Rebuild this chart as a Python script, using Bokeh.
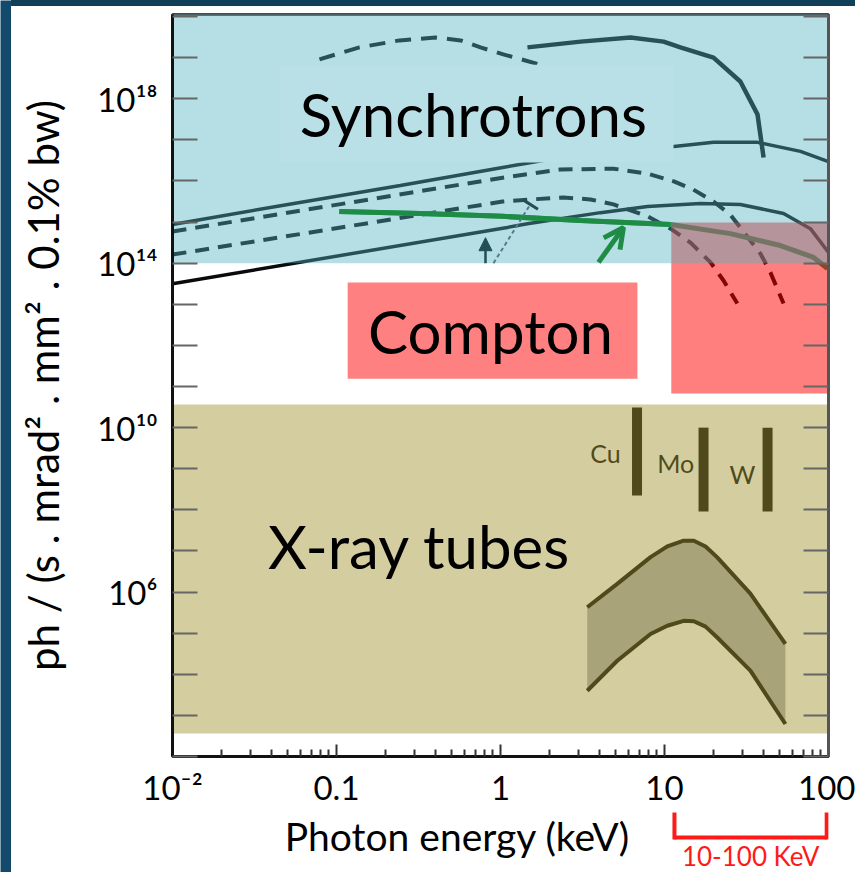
import math
import numpy as np
from bokeh.plotting import figure
from bokeh.layouts import column, row
from bokeh.models import (Range1d, LogAxis, FixedTicker, Arrow, OpenHead, NormalHead, TeeHead, Div)
from bokeh.core.properties import value
from bokeh.embed import file_html
from bokeh.resources import INLINE

FONT = "Lato"

# ------------------------------------------------------------------ data
# axis ticks
x_tick_values = [0.01, 0.1, 1.0, 10.0, 100.0]
x_tick_labels = ["10\u207b\u00b2", "0.1", "1", "10", "100"]
y_tick_decades = list(range(2, 21))
y_label_exponents = [6, 10, 14, 18]
y_label_texts = ["10\u2076", "10\u00b9\u2070", "10\u00b9\u2074", "10\u00b9\u2078"]

# source regions: energy range (keV) and log10 brightness range
synchrotron_E = [0.01, 100.0]
synchrotron_logB = [14.0, 21.0]
compton_E = [11.0, 100.0]
compton_logB = [10.83, 14.99]
tube_E = [0.01, 100.0]
tube_logB = [2.56, 10.56]

# label boxes (energy keV, log10 brightness)
synch_box_E = [0.045, 11.35]
synch_box_logB = [16.45, 18.83]
compton_box_E = [0.117, 6.84]
compton_box_logB = [11.19, 13.53]

region_labels = ["Synchrotrons", "Compton", "X-ray tubes"]
region_label_E = [0.684, 0.87, 0.32]
region_label_logB = [17.62, 12.36, 7.13]

# synchrotron brightness curves (keV, log10 brightness)
s1_E = [0.01, 0.0456, 0.245, 1.03, 2.32, 5.4, 11.4, 19.9, 36.9, 67.5, 100]
s1_logB = [14.94, 15.40, 15.89, 16.33, 16.57, 16.74, 16.84, 16.94, 16.94, 16.72, 16.47]

dA_E = [0.01, 1.03, 2.32, 4.89, 7.87, 11.4, 15.0, 19.9, 25.2, 30.3, 38.5, 44.3, 53.2]
dA_logB = [14.77, 16.08, 16.28, 16.30, 16.18, 15.99, 15.79, 15.50, 15.18, 14.77, 14.23, 13.77, 13.02]

dB_E = [0.01, 1.03, 1.52, 2.42, 3.54, 4.89, 6.47, 7.87, 10.9, 14.4, 19.1, 22.9, 27.8]
dB_logB = [14.21, 15.50, 15.55, 15.60, 15.55, 15.43, 15.26, 15.14, 14.84, 14.50, 14.02, 13.58, 13.02]

s2_E = [0.01, 1.10, 1.46, 4.07, 7.87, 16.6, 29.0, 53.2, 77.6, 100]
s2_logB = [13.50, 14.87, 14.96, 15.23, 15.38, 15.45, 15.43, 15.21, 14.84, 14.26]

dC_E = [0.0787, 0.138, 0.242, 0.402, 0.571, 0.755, 1.04, 1.75]
dC_logB = [18.96, 19.25, 19.42, 19.49, 19.42, 19.25, 19.08, 18.83]

s3_E = [1.46, 3.08, 6.21, 9.87, 12.5, 19.9, 29.0, 36.9, 40.2]
s3_logB = [19.25, 19.39, 19.49, 19.39, 19.25, 19.00, 18.42, 17.62, 16.57]

# inverse Compton source curve
green_E = [0.104, 0.325, 1.03, 3.08, 10.9, 25.2, 50.9, 81.1, 98.6]
green_logB = [15.26, 15.21, 15.14, 15.04, 14.94, 14.72, 14.43, 14.14, 13.87]

# arrows (start E, start logB, end E, end logB)
green_arrow = [3.96, 14.02, 5.62, 14.87]
up_arrow = [0.81, 14.0, 0.81, 14.62]
tee_arrow = [0.906, 14.0, 1.52, 15.43]

# X-ray tube spectrum band
band_E = [3.38, 5.15, 8.22, 10.4, 13.1, 15.1, 17.8, 20.9, 33.4, 54.6]
band_top_logB = [5.63, 6.20, 6.85, 7.11, 7.25, 7.25, 7.11, 6.85, 5.96, 4.74]
band_bot_logB = [3.60, 4.33, 4.98, 5.18, 5.30, 5.29, 5.16, 4.90, 4.09, 2.79]

# anode lines
anodes = ["Cu", "Mo", "W"]
anode_E = [6.8, 17.3, 42.5]
anode_top_logB = [10.49, 10.0, 10.0]
anode_bot_logB = [8.35, 7.96, 7.96]
anode_label_E = [4.37, 11.7, 29.9]
anode_label_logB = [9.39, 9.13, 8.88]

# 10-100 keV bracket under the axis
range_label = "10-100 KeV"
bracket_E = [11.5, 97.5]
x_title = "Photon energy (keV)"
y_title = "ph / (s . mrad\u00b2 . mm\u00b2 . 0.1% bw)"

# ------------------------------------------------------------------ layout
PAGE_W, PAGE_H = 855, 872
STRIP_L, STRIP_T = 11, 6
FL, FR, FT, FB = 172, 828, 14, 756          # frame edges on the page
MAIN_BOTTOM = 812                           # page y where the main figure ends
X_LO, X_HI = -2.0, 2.0
Y_LO, Y_HI = 2.0, 20.05
PPX = (FR - FL) / (X_HI - X_LO)

FIG_W = PAGE_W - STRIP_L


def xd(px):
    return 10 ** (X_LO + (px - FL) / PPX)


def B(arr):
    return list(np.power(10.0, np.array(arr, dtype=float)))


LINE = "#0a0a0a"
GREEN = "#1f8c45"
TEAL = "#244e56"

p = figure(width=FIG_W, height=MAIN_BOTTOM - STRIP_T, x_axis_type="log", y_axis_type="log",
           x_range=Range1d(10 ** X_LO, 10 ** X_HI), y_range=Range1d(10 ** Y_LO, 10 ** Y_HI),
           output_backend="svg", toolbar_location=None, title=None,
           min_border_left=FL - STRIP_L, min_border_right=PAGE_W - FR,
           min_border_top=FT - STRIP_T, min_border_bottom=MAIN_BOTTOM - FB)
p.background_fill_color = "white"
p.border_fill_color = "white"
p.grid.visible = False
p.outline_line_color = "#4a4a4a"
p.outline_line_width = 3

# bottom axis
p.xaxis.ticker = FixedTicker(ticks=x_tick_values,
                             minor_ticks=[m * 10.0 ** k for k in range(-2, 2) for m in range(2, 10)])
p.xaxis.major_label_overrides = dict(zip(x_tick_values, x_tick_labels))
p.xaxis.major_label_text_font = FONT
p.xaxis.major_label_text_font_size = "33px"
p.xaxis.major_label_text_color = "black"
p.xaxis.major_label_standoff = 10
p.xaxis.major_tick_in = 12
p.xaxis.major_tick_out = 0
p.xaxis.minor_tick_in = 7
p.xaxis.minor_tick_out = 0
p.xaxis.axis_line_color = "#111111"
p.xaxis.axis_line_width = 3
p.xaxis.major_tick_line_color = "#333333"
p.xaxis.minor_tick_line_color = "#333333"
p.xaxis.major_tick_line_width = 2
p.xaxis.minor_tick_line_width = 2

# left axis
y_ticks = [10.0 ** k for k in y_tick_decades]
y_over = {t: "" for t in y_ticks}
for e, t in zip(y_label_exponents, y_label_texts):
    y_over[10.0 ** e] = t
p.yaxis.ticker = FixedTicker(ticks=y_ticks, minor_ticks=[])
p.yaxis.major_label_overrides = y_over
p.yaxis.major_label_text_font = FONT
p.yaxis.major_label_text_font_size = "33px"
p.yaxis.major_label_text_color = "black"
p.yaxis.major_label_standoff = 15
p.yaxis.major_tick_in = 25
p.yaxis.major_tick_out = 0
p.yaxis.axis_line_color = "#111111"
p.yaxis.axis_line_width = 3
p.yaxis.major_tick_line_color = "#666666"
p.yaxis.major_tick_line_width = 2
p.yaxis.axis_label = y_title
p.yaxis.axis_label_text_font = FONT
p.yaxis.axis_label_text_font_size = "42px"
p.yaxis.axis_label_text_font_style = "normal"
p.yaxis.axis_label_text_color = "black"
p.yaxis.axis_label_standoff = 26

right = LogAxis(ticker=FixedTicker(ticks=y_ticks, minor_ticks=[]),
                major_label_overrides={t: "" for t in y_ticks},
                major_tick_in=25, major_tick_out=0, major_label_standoff=0,
                axis_line_color="#555555", axis_line_width=3,
                major_tick_line_color="#666666", major_tick_line_width=2)
p.add_layout(right, "right")

# ---- original (black) figure content, later tinted by overlays
p.varea(x=band_E, y1=B(band_bot_logB), y2=B(band_top_logB), fill_color="#b2b1b6")
p.line(band_E, B(band_top_logB), line_color=LINE, line_width=4)
p.line(band_E, B(band_bot_logB), line_color=LINE, line_width=4)
p.segment(x0=anode_E, y0=B(anode_bot_logB), x1=anode_E, y1=B(anode_top_logB),
          line_color=LINE, line_width=10)
p.text(x=anode_label_E, y=B(anode_label_logB), text=anodes, text_align="center",
       text_baseline="middle", text_font=value(FONT), text_font_size="25px", text_color=LINE)

p.line(s1_E, B(s1_logB), line_color=LINE, line_width=3.5)
p.line(s2_E, B(s2_logB), line_color=LINE, line_width=3.5)
p.line(s3_E, B(s3_logB), line_color=LINE, line_width=4.5)
p.line(dA_E, B(dA_logB), line_color=LINE, line_width=4, line_dash="14 9")
p.line(dB_E, B(dB_logB), line_color=LINE, line_width=4, line_dash="14 9")
p.line(dC_E, B(dC_logB), line_color=LINE, line_width=4, line_dash="16 10")
p.line(green_E, B(green_logB), line_color=GREEN, line_width=5)

# ---- source-region overlays
p.quad(left=[compton_E[0]], right=[compton_E[1]], bottom=B([compton_logB[0]]),
       top=B([compton_logB[1]]), fill_color="#ff0000", fill_alpha=0.5, line_color=None)
p.quad(left=[synchrotron_E[0]], right=[synchrotron_E[1]], bottom=B([synchrotron_logB[0]]),
       top=B([synchrotron_logB[1]]), fill_color="#51b4c2", fill_alpha=0.425, line_color=None)
p.quad(left=[tube_E[0]], right=[tube_E[1]], bottom=B([tube_logB[0]]),
       top=B([tube_logB[1]]), fill_color="#a09332", fill_alpha=0.463, line_color=None)

# label boxes
p.quad(left=[synch_box_E[0]], right=[synch_box_E[1]], bottom=B([synch_box_logB[0]]),
       top=B([synch_box_logB[1]]), fill_color="#b8e0e6", line_color=None)
p.quad(left=[compton_box_E[0]], right=[compton_box_E[1]], bottom=B([compton_box_logB[0]]),
       top=B([compton_box_logB[1]]), fill_color="#ff8080", line_color=None)

# bright part of the green curve (outside the Compton overlay)
g_vis = [i for i, e in enumerate(green_E) if e <= compton_E[0]]
p.line([green_E[i] for i in g_vis], B([green_logB[i] for i in g_vis]),
       line_color=GREEN, line_width=5)

p.text(x=region_label_E, y=B(region_label_logB), text=region_labels, text_align="center",
       text_baseline="middle", text_font=value(FONT), text_font_size="60px", text_color="black")

# arrows
p.add_layout(Arrow(x_start=green_arrow[0], y_start=10 ** green_arrow[1],
                   x_end=green_arrow[2], y_end=10 ** green_arrow[3],
                   line_color=GREEN, line_width=5,
                   end=OpenHead(size=20, line_color=GREEN, line_width=5)))
p.add_layout(Arrow(x_start=up_arrow[0], y_start=10 ** up_arrow[1],
                   x_end=up_arrow[2], y_end=10 ** up_arrow[3],
                   line_color=TEAL, line_width=2.5,
                   end=NormalHead(size=13, line_color=TEAL, fill_color=TEAL)))
p.add_layout(Arrow(x_start=tee_arrow[0], y_start=10 ** tee_arrow[1],
                   x_end=tee_arrow[2], y_end=10 ** tee_arrow[3],
                   line_color="#4f7e86", line_width=2, line_dash="4 3",
                   end=TeeHead(size=18, line_color=TEAL, line_width=3)))

# ---- strip under the axis: x title and the 10-100 keV bracket
# (its frame is aligned with the main frame by the column layout)
BOT_H = PAGE_H - MAIN_BOTTOM
q = figure(width=FIG_W, height=BOT_H, x_axis_type="log",
           x_range=Range1d(10 ** X_LO, 10 ** X_HI), y_range=Range1d(BOT_H, 0),
           output_backend="svg", toolbar_location=None, title=None,
           x_axis_location=None, y_axis_location=None,
           min_border_left=FL - STRIP_L, min_border_right=PAGE_W - FR,
           min_border_top=0, min_border_bottom=0)
q.background_fill_color = "white"
q.border_fill_color = "white"
q.outline_line_color = None
q.grid.visible = False


def qy(page_y):
    return page_y - MAIN_BOTTOM


q.text(x=[xd(457)], y=[qy(835)], text=[x_title], text_align="center",
       text_baseline="middle", text_font=value(FONT), text_font_size="39px",
       text_color="black")
q.segment(x0=bracket_E, y0=[qy(806)] * 2, x1=bracket_E, y1=[qy(839)] * 2,
          line_color="#ff1a1a", line_width=4)
q.segment(x0=[bracket_E[0]], y0=[qy(837)], x1=[bracket_E[1]], y1=[qy(837)],
          line_color="#ff1a1a", line_width=4)
q.text(x=[math.sqrt(bracket_E[0] * bracket_E[1])], y=[qy(855)], text=[range_label],
       text_align="center", text_baseline="middle", text_font=value(FONT),
       text_font_size="26px", text_color="#ff1a1a")


# ---- dark slide border strips
left_strip = figure(width=STRIP_L, height=PAGE_H, output_backend="svg", toolbar_location=None,
                    title=None, x_axis_location=None, y_axis_location=None, min_border=0,
                    x_range=Range1d(0, 1), y_range=Range1d(0, 1))
left_strip.background_fill_color = "#13496a"
left_strip.border_fill_color = "#13496a"
left_strip.outline_line_color = None
left_strip.grid.visible = False

top_strip = Div(text="", width=FIG_W, height=STRIP_T, margin=0,
                styles={"background-color": "#103f58"})

layout = row(left_strip, column(top_strip, p, q, spacing=0), spacing=0)

open("out.html", "w").write(file_html(layout, INLINE))
